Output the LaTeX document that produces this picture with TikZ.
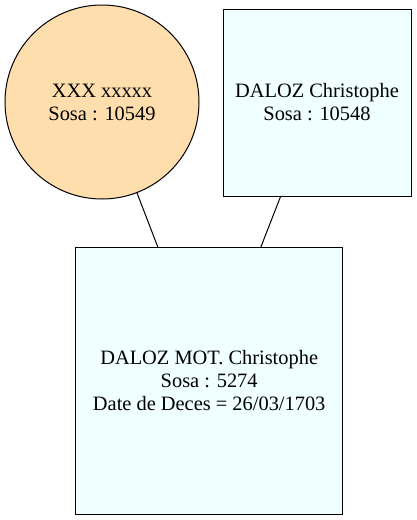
\documentclass[tikz,border=0pt]{standalone}
\usepackage{fontspec}
\setmainfont{Liberation Serif}
\definecolor{navajo}{HTML}{FFDEAD}
\definecolor{azure}{HTML}{F0FFFF}
\begin{document}
\begin{tikzpicture}[x=1pt,y=-1pt,
		person/.style={draw=black, line width=1pt, outer sep=0pt, inner sep=0pt, align=center, font=\fontsize{20.4}{23}\selectfont},
		woman/.style={person, circle, fill=navajo, minimum size=194pt},
		man/.style={person, rectangle, fill=azure}]
		\useasboundingbox[fill=white] (0,0) rectangle (416,520);
		
		\node[woman] (mother) at (102,102) {XXX xxxxx\\Sosa : 10549};
		\node[man, minimum width=188pt, minimum height=187pt] (father) at (317,102.5) {DALOZ Christophe\\Sosa : 10548};
		
		\node[man, minimum width=267pt, minimum height=267pt] (child) at (209.2,380.7) {DALOZ MOT. Christophe\\Sosa : 5274\\Date de Deces = 26/03/1703};
		
		\draw[line width=1pt] (mother) -- (child);
		\draw[line width=1pt] (father) -- (child);
	\end{tikzpicture}
\end{document}
